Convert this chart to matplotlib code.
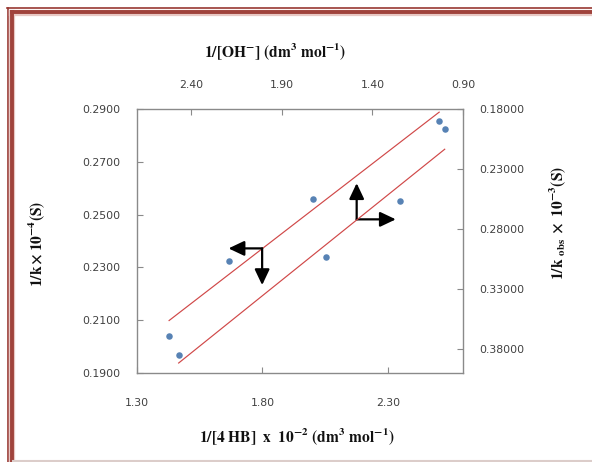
import matplotlib
matplotlib.use('Agg')
import matplotlib.pyplot as plt
from matplotlib.lines import Line2D
from matplotlib.ticker import FormatStrFormatter
import numpy as np

plt.rcParams['mathtext.fontset'] = 'stix'
plt.rcParams['font.family'] = ['DejaVu Sans']

# series on bottom / left axes: 1/[4 HB] x 10^-2  vs  1/k x 10^-4
hb_inv = [1.428, 1.665, 2.001, 2.505]
k_inv = [0.2040, 0.2323, 0.2560, 0.2855]

# series on top / right axes: 1/[OH-]  vs  1/k_obs x 10^-3
oh_inv = [2.470, 1.658, 1.248, 1.001]
kobs_inv = [0.3850, 0.3031, 0.2569, 0.1969]

bottom_ticks = [1.30, 1.80, 2.30]
left_ticks = [0.19, 0.21, 0.23, 0.25, 0.27, 0.29]
top_ticks = [2.40, 1.90, 1.40, 0.90]
right_ticks = [0.18, 0.23, 0.28, 0.33, 0.38]

# arrow corners and tips (bottom/left data units)
arrow_left = dict(corner=(1.799, 0.2372), h_tip=1.665, v_tip=0.2233)
arrow_right = dict(corner=(2.176, 0.2482), h_tip=2.332, v_tip=0.2619)

W, H = 592, 462
fig = plt.figure(figsize=(W / 100, H / 100), dpi=100)
fig.patch.set_facecolor('white')

pos = [137 / W, (H - 373) / H, (463 - 137) / W, (373 - 109) / H]
ax = fig.add_axes(pos)
ax2 = fig.add_axes(pos, frameon=False)

spine_c = '#8a8a8a'
tick_c = '#404040'
dot_c = '#5782b4'
line_c = '#d04848'

# primary axes
ax.scatter(hb_inv, k_inv, s=22, color=dot_c, zorder=3, linewidths=0)
a, b = np.polyfit(hb_inv, k_inv, 1)
xs = np.array([min(hb_inv), max(hb_inv)])
ax.plot(xs, a * xs + b, color=line_c, lw=0.85)
ax.set_xlim(1.30, 2.60)
ax.set_ylim(0.19, 0.29)
ax.set_xticks(bottom_ticks)
ax.set_yticks(left_ticks)
ax.xaxis.set_major_formatter(FormatStrFormatter('%.2f'))
ax.yaxis.set_major_formatter(FormatStrFormatter('%.4f'))
ax.tick_params(direction='in', length=4, width=0.8, color=spine_c,
               labelcolor=tick_c, labelsize=7.8)
ax.tick_params(axis='x', pad=18)
ax.tick_params(axis='y', pad=12)
for s in ax.spines.values():
    s.set_color(spine_c)
    s.set_linewidth(1.0)

# secondary axes (top / right, both reversed)
ax2.scatter(oh_inv, kobs_inv, s=22, color=dot_c, zorder=3, linewidths=0)
a2, b2 = np.polyfit(oh_inv, kobs_inv, 1)
xs2 = np.array([min(oh_inv), max(oh_inv)])
ax2.plot(xs2, a2 * xs2 + b2, color=line_c, lw=0.85)
ax2.set_xlim(2.70, 0.90)
ax2.set_ylim(0.40, 0.18)
ax2.xaxis.tick_top()
ax2.yaxis.tick_right()
ax2.set_xticks(top_ticks)
ax2.set_yticks(right_ticks)
ax2.xaxis.set_major_formatter(FormatStrFormatter('%.2f'))
ax2.yaxis.set_major_formatter(FormatStrFormatter('%.5f'))
ax2.tick_params(direction='in', length=4, width=0.8, color=spine_c,
                labelcolor=tick_c, labelsize=7.8)
ax2.tick_params(axis='x', pad=14)
ax2.tick_params(axis='y', pad=12)

# arrows
aprops = dict(arrowstyle='-|>,head_length=0.95,head_width=0.45', lw=1.6,
              color='black', mutation_scale=10, shrinkA=0, shrinkB=0)
for arr in (arrow_left, arrow_right):
    cx, cy = arr['corner']
    ax.annotate('', xy=(arr['h_tip'], cy), xytext=(cx, cy), arrowprops=aprops, zorder=4)
    ax.annotate('', xy=(cx, arr['v_tip']), xytext=(cx, cy), arrowprops=aprops, zorder=4)

# axis titles
lab = dict(fontsize=11.2, color='#111111', ha='center', va='center')
fig.text(275 / W, 1 - 52 / H, r'$\mathbf{1/[OH^{-}]\ (dm^{3}\ mol^{-1})}$', **lab)
fig.text(297 / W, 1 - 437 / H, r'$\mathbf{1/[4\ HB]\ \ x\ \ 10^{-2}\ (dm^{3}\ mol^{-1})}$', **lab)
fig.text(37 / W, 1 - 244 / H, r'$\mathbf{1/k\times 10^{-4}(S)}$', rotation=90, **lab)
fig.text(558 / W, 1 - 223 / H, r'$\mathbf{1/k\ }_{\mathbf{obs}}\mathbf{\ \times\ 10^{-3}(S)}$',
         rotation=90, **lab)

# page border
def px_line(x0, y0, x1, y1, **kw):
    fig.add_artist(Line2D([x0 / W, x1 / W], [1 - y0 / H, 1 - y1 / H],
                          transform=fig.transFigure, **kw))

dark = '#983832'
px_line(7, 8, W, 8, color=dark, lw=1.2)
px_line(7.5, 8, 7.5, H, color=dark, lw=1.2)
px_line(11.5, 12.5, W, 12.5, color='#e8c8c4', lw=4.5)
px_line(11.5, 12.5, 11.5, H, color='#e8c8c4', lw=4.5)
px_line(11.5, 12.2, W, 12.2, color='#a0433c', lw=2.8)
px_line(11.5, 12.2, 11.5, H, color='#a0433c', lw=2.8)
px_line(13, H - 1, W, H - 1, color='#dccdca', lw=1.5)

fig.savefig('out.png', dpi=100)
